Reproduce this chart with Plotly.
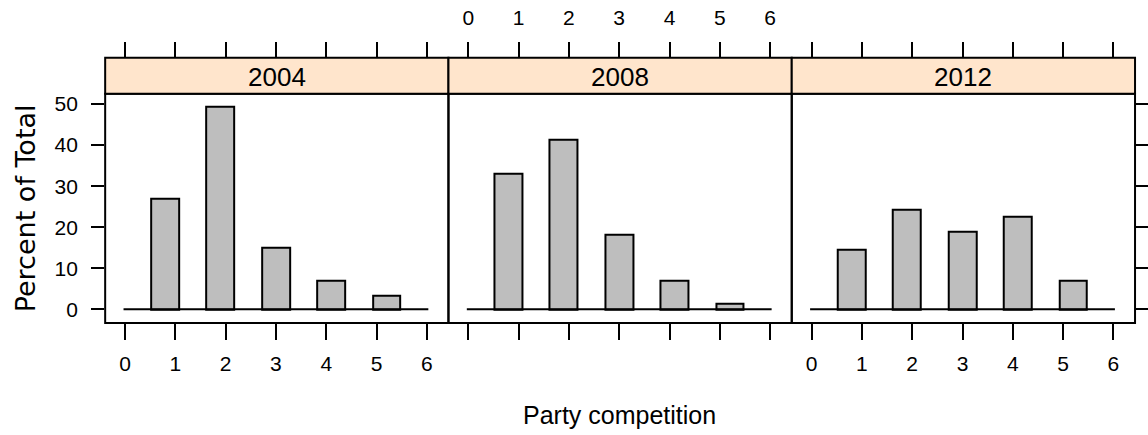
import numpy as np
import plotly.graph_objects as go

# Percent of total per party-competition score, one panel per election year
years = ["2004", "2008", "2012"]
party_competition = [1, 2, 3, 4, 5]
pct_2004 = [26.9, 49.3, 15.0, 7.0, 3.2]
pct_2008 = [33.1, 41.3, 18.2, 6.9, 1.3]
pct_2012 = [14.4, 24.3, 18.8, 22.5, 6.9]
x_ticks = [0, 1, 2, 3, 4, 5, 6]
y_ticks = [0, 10, 20, 30, 40, 50]

# histogram bins shared by all panels
bin_lo, bin_hi, n_bins = -0.03, 6.03, 11
bin_w = (bin_hi - bin_lo) / n_bins

W, H = 1148, 435
FONT = "Liberation Sans, Arial, sans-serif"
FILL = "#BEBEBE"
STRIP = "#FFE5CC"

panel_px = [(106, 452), (452, 798), (798, 1144)]
panel_top_px, panel_bot_px = 93, 322.7
strip_top_px = 57
xr = [-0.395, 6.43]
yr = [-3.33, 52.5]

def px_x(p):
    return p / W

def px_y(p):
    return 1 - p / H

fig = go.Figure()
series = [pct_2004, pct_2008, pct_2012]

for i, (yr_name, vals) in enumerate(zip(years, series)):
    sfx = "" if i == 0 else str(i + 1)
    idx = [int(np.floor((v - bin_lo) / bin_w)) for v in party_competition]
    centers = [bin_lo + (k + 0.5) * bin_w for k in idx]
    # zero baseline across the full bin range (empty bins)
    fig.add_trace(go.Scatter(
        x=[bin_lo, bin_hi], y=[0, 0], mode="lines",
        line=dict(color="black", width=2),
        xaxis="x" + sfx, yaxis="y" + sfx, showlegend=False, hoverinfo="skip"))
    fig.add_trace(go.Bar(
        x=centers, y=vals, width=bin_w,
        marker=dict(color=FILL, line=dict(color="black", width=2)),
        xaxis="x" + sfx, yaxis="y" + sfx, showlegend=False, name=yr_name))
    # invisible trace so the top tick axis is drawn
    fig.add_trace(go.Scatter(
        x=[None], y=[None], xaxis="x" + str(i + 4), yaxis="y" + sfx,
        showlegend=False, hoverinfo="skip"))

layout = dict(
    width=W, height=H,
    margin=dict(l=0, r=0, t=0, b=0),
    paper_bgcolor="white", plot_bgcolor="white",
    bargap=0,
    font=dict(family=FONT, size=21, color="black"),
    shapes=[], annotations=[],
)

for i, (a, b) in enumerate(panel_px):
    n = i + 1
    xs = "" if n == 1 else str(n)
    dom = [px_x(a), px_x(b)]
    layout["xaxis" + xs] = dict(
        domain=dom, range=xr, anchor="y" + xs,
        tickmode="array", tickvals=x_ticks, ticktext=[str(t) for t in x_ticks],
        showticklabels=(n != 2),
        ticks="outside", ticklen=16, tickwidth=2, tickcolor="black",
        ticklabelstandoff=6,
        showline=False, showgrid=False, zeroline=False, fixedrange=True,
    )
    ya = dict(
        domain=[px_y(panel_bot_px), px_y(panel_top_px)], range=yr, anchor="x" + xs,
        showline=False, showgrid=False, zeroline=False, fixedrange=True,
        tickmode="array", tickvals=y_ticks,
    )
    if n == 1:
        ya.update(ticks="outside", ticklen=13, tickwidth=2, tickcolor="black",
                  showticklabels=True, ticklabelstandoff=9)
    elif n == 3:
        ya.update(side="right", ticks="outside", ticklen=13, tickwidth=2,
                  tickcolor="black", showticklabels=False)
    else:
        ya.update(ticks="", showticklabels=False)
    layout["yaxis" + xs] = ya

    # tick axis sitting on top of the strip
    layout["xaxis" + str(n + 3)] = dict(
        overlaying="x" + xs, domain=dom, range=xr, anchor="free",
        position=px_y(strip_top_px), side="top",
        tickmode="array", tickvals=x_ticks, ticktext=[str(t) for t in x_ticks],
        showticklabels=(n == 2),
        ticks="outside", ticklen=16, tickwidth=2, tickcolor="black",
        ticklabelstandoff=8,
        showline=False, showgrid=False, zeroline=False, fixedrange=True,
    )

    # panel frame
    layout["shapes"].append(dict(
        type="rect", xref="paper", yref="paper",
        x0=dom[0], x1=dom[1], y0=px_y(panel_bot_px), y1=px_y(panel_top_px),
        fillcolor="rgba(0,0,0,0)", line=dict(color="black", width=2), layer="above"))
    # strip header
    layout["shapes"].append(dict(
        type="rect", xref="paper", yref="paper",
        x0=dom[0], x1=dom[1], y0=px_y(panel_top_px), y1=px_y(strip_top_px),
        fillcolor=STRIP, line=dict(color="black", width=2), layer="above"))
    layout["annotations"].append(dict(
        text=years[i], xref="paper", yref="paper",
        x=(dom[0] + dom[1]) / 2, y=px_y((panel_top_px + strip_top_px) / 2 + 1),
        xanchor="center", yanchor="middle", showarrow=False,
        font=dict(family=FONT, size=26, color="black")))

layout["annotations"].append(dict(
    text="Party competition", xref="paper", yref="paper",
    x=px_x(624), y=px_y(415), xanchor="center", yanchor="middle",
    showarrow=False, font=dict(family=FONT, size=25, color="black")))
layout["annotations"].append(dict(
    text="Percent of Total", xref="paper", yref="paper",
    x=px_x(26), y=px_y(208), xanchor="center", yanchor="middle",
    textangle=-90, showarrow=False,
    font=dict(family="DejaVu Sans, Liberation Sans, sans-serif", size=27, color="black")))

fig.update_layout(**layout)
fig.write_html("out.html")
